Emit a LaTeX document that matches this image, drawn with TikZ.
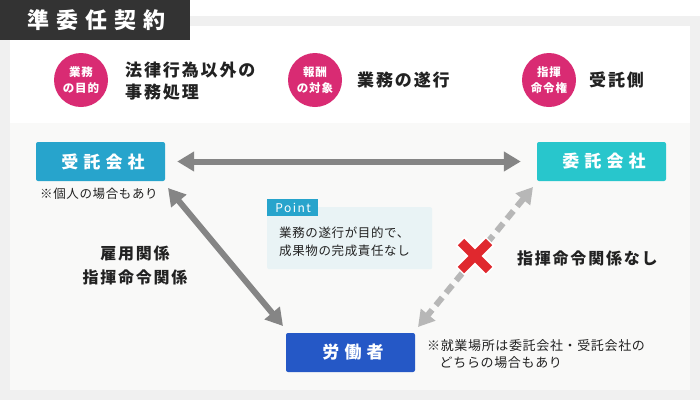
\documentclass[tikz,border=0pt]{standalone}
\usepackage{fontspec}
\setmainfont{Noto Sans CJK JP}
\newfontfamily\jpT[LetterSpace=32]{Noto Sans CJK JP}
\newfontfamily\jpBox[LetterSpace=30]{Noto Sans CJK JP}
\newfontfamily\jpCirc[LetterSpace=8]{Noto Sans CJK JP}
\newfontfamily\jpLab[LetterSpace=11]{Noto Sans CJK JP}
\newfontfamily\jpSm[LetterSpace=5]{Noto Sans CJK JP}
\newfontfamily\jpPt[LetterSpace=12]{Noto Sans CJK JP}
\usetikzlibrary{arrows.meta,calc}
\definecolor{titlebg}{HTML}{333333}
\definecolor{framegray}{HTML}{F0F0F0}
\definecolor{panelgray}{HTML}{F9F9F8}
\definecolor{pinkc}{HTML}{D92B73}
\definecolor{jblue}{HTML}{27A4CC}
\definecolor{iteal}{HTML}{28C6CC}
\definecolor{wblue}{HTML}{2558C6}
\definecolor{agray}{HTML}{858585}
\definecolor{dgray}{HTML}{B7B7B7}
\definecolor{xred}{HTML}{E0282E}
\definecolor{pointbg}{HTML}{E9F3F5}
\definecolor{ink}{HTML}{222222}
\tikzset{
  circ/.style={circle, fill=pinkc, minimum size=54pt, inner sep=0pt, text=white, align=center, font=\fontsize{11.5}{16.5}\selectfont\jpCirc\bfseries},
  lab/.style={inner sep=0pt, text=ink, font=\fontsize{17}{22}\selectfont\jpLab\bfseries},
  midlab/.style={inner sep=0pt, text=ink, font=\fontsize{16}{24}\selectfont\jpLab\bfseries},
  sm/.style={inner sep=0pt, text=ink, font=\fontsize{12.5}{18}\selectfont\jpSm},
  boxn/.style={rounded corners=2pt, minimum width=129pt, minimum height=39pt, inner sep=0pt, text=white, font=\fontsize{17}{17}\selectfont\jpBox\bfseries},
  garrow/.style={draw=agray, line width=6pt, {Triangle[length=17pt,width=19pt]}-{Triangle[length=17pt,width=19pt]}},
  darrow/.style={draw=dgray, line width=6pt, dash pattern=on 10pt off 6pt, {Triangle[length=16pt,width=18pt]}-{Triangle[length=16pt,width=18pt]}}
}
\begin{document}
\begin{tikzpicture}[x=1pt,y=-1pt]
\useasboundingbox (0,0) rectangle (700,400);
% backgrounds
\fill[white] (0,0) rectangle (700,400);
\fill[framegray] (0,16) rectangle (700,400);
\fill[white] (10,26) rectangle (690,123);
\fill[panelgray] (10,123) rectangle (690,390);
\fill[titlebg] (0,0) rectangle (190,40);
\node[inner sep=0pt, anchor=west, text=white, font=\fontsize{22}{22}\selectfont\jpT\bfseries] (title) at (27,20) {準委任契約};
% top row
\node[circ] (c1) at (81,80) {業務\\の目的};
\node[lab, anchor=west, align=left] (t1) at (125,81) {法律行為以外の\\事務処理};
\node[circ] (c2) at (315,80) {報酬\\の対象};
\node[lab, anchor=west] (t2) at (357,80) {業務の遂行};
\node[circ] (c3) at (549,80) {指揮\\命令権};
\node[lab, anchor=west] (t3) at (589,80) {受託側};
% boxes
\node[boxn, fill=jblue] (jutaku) at (100.5,161.5) {\kern5pt受託会社};
\node[boxn, fill=iteal] (itaku) at (601.5,161.5) {\kern5pt委託会社};
\node[boxn, fill=wblue] (roudou) at (350.5,352.5) {\kern5pt労働者};
\node[sm, anchor=west] (n1) at (40,194) {※個人の場合もあり};
\node[sm, anchor=west, align=left, font=\fontsize{13}{16.5}\selectfont\jpSm] (n2) at (427,354) {※就業場所は委託会社・受託会社の\\\hspace*{12.5pt}どちらの場合もあり};
% point box
\node[fill=pointbg, rounded corners=2pt, anchor=north west, minimum width=165pt, minimum height=62pt, inner sep=0pt] (pbox) at (267,207) {};
\node[fill=jblue, anchor=north west, minimum width=51pt, minimum height=17pt, inner sep=0pt, text=white, font=\fontsize{12}{12}\selectfont\jpPt] (ptag) at (267,199) {\kern1pt Point};
\node[sm, anchor=west, align=left, font=\fontsize{12.5}{18}\selectfont\jpSm] (ptext) at (279,242) {業務の遂行が目的で、\\成果物の完成責任なし};
% labels
\node[midlab, align=center] (l1) at (135,265) {雇用関係\\指揮命令関係};
\node[midlab, anchor=west] (l2) at (517,258) {指揮命令関係なし};
% arrows
\coordinate (a1) at (168,188);
\coordinate (a2) at (283,326);
\coordinate (b1) at (533,187);
\coordinate (b2) at (418,327);
\draw[garrow, shorten <=12pt, shorten >=16pt] (jutaku) -- (itaku);
\draw[garrow] (a1) -- (a2);
\draw[darrow] (b1) -- (b2);
% red cross
\coordinate (x0) at (475,256);
\draw[white, line width=13pt] ($(x0)+(-15,-15)$) -- ($(x0)+(15,15)$) ($(x0)+(15,-15)$) -- ($(x0)+(-15,15)$);
\draw[xred, line width=9pt] ($(x0)+(-14,-14)$) -- ($(x0)+(14,14)$) ($(x0)+(14,-14)$) -- ($(x0)+(-14,14)$);
\end{tikzpicture}
\end{document}
